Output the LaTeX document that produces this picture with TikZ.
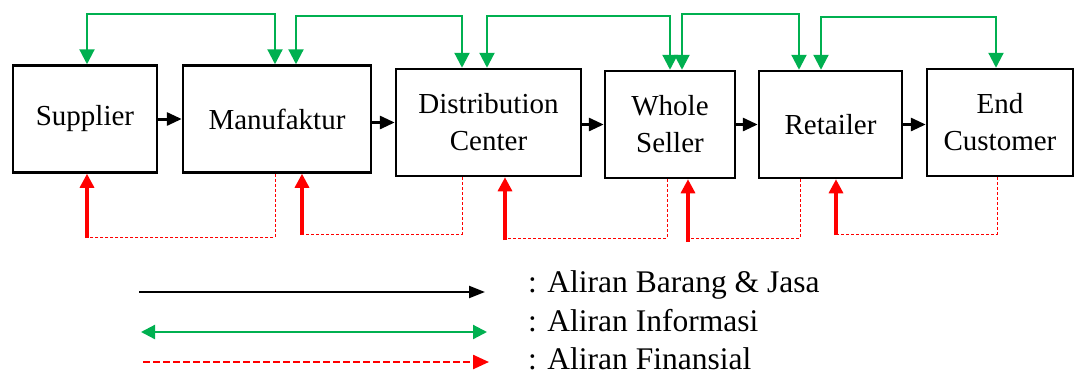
\documentclass[tikz,border=0pt]{standalone}
\usepackage{fontspec}
\setmainfont{Liberation Serif}
\usetikzlibrary{arrows.meta}
\definecolor{infogreen}{RGB}{0,176,80}
\definecolor{finred}{RGB}{255,0,0}
\begin{document}
\begin{tikzpicture}[x=1pt,y=-1pt,
  stage/.style={draw,line width=2.5pt,minimum width=#1,minimum height=107pt,
    align=center,inner sep=0pt,font=\fontsize{29}{37}\selectfont},
  goods/.style={line width=3pt,-{Triangle[length=15pt,width=13pt]}},
  info/.style={draw=infogreen,line width=2.2pt,line join=miter,
    {Triangle[length=15pt,width=15pt]}-{Triangle[length=15pt,width=15pt]}},
  finpay/.style={draw=finred,line width=3.2pt,-{Triangle[length=14pt,width=14pt]}},
  finback/.style={draw=finred,line width=1pt,dash pattern=on 3pt off 2pt},
  keytext/.style={anchor=base west,inner sep=0pt,font=\fontsize{31.5}{37}\selectfont}]
\useasboundingbox (0,0) rectangle (1077,376);

% supply chain stages
\node[stage=144pt] (sup) at (85,119) {Supplier};
\node[stage=188pt] (man) at (277,119) {Manufaktur};
\node[stage=185pt] (dc)  at (488.5,122.5) {Distribution\\Center};
\node[stage=130pt] (ws)  at (670,124.5) {Whole\\Seller};
\node[stage=143pt] (ret) at (830.5,124.5) {Retailer};
\node[stage=146pt] (ec)  at (1000,122.5) {End\\Customer};

% flow of goods
\draw[goods] (sup.east) -- (man.west);
\draw[goods] (dc.west -| man.east) -- (dc.west);
\draw[goods] (ws.west -| dc.east) -- (ws.west);
\draw[goods] (ret.west -| ws.east) -- (ret.west);
\draw[goods] (ret.east) -- (ret.east -| ec.west);

% flow of information
\draw[info] (sup.north -| 87,0) |- (275,14) -- (man.north -| 275,0);
\draw[info] (man.north -| 296,0) |- (462,16) -- (dc.north -| 462,0);
\draw[info] (dc.north -| 487,0) |- (670,16) -- (ws.north -| 670,0);
\draw[info] (ws.north -| 682,0) |- (799,14) -- (ret.north -| 799,0);
\draw[info] (ret.north -| 821,0) |- (996,17) -- (ec.north -| 996,0);

% flow of payments
\coordinate (p1) at (87,237);
\coordinate (p2) at (302,234);
\coordinate (p3) at (505,238);
\coordinate (p4) at (688,238);
\coordinate (p5) at (836,234);
\draw[finback] (man.south -| 275,0) |- (p1);
\draw[finback] (dc.south -| 462,0) |- (p2);
\draw[finback] (ws.south -| 667,0) |- (p3);
\draw[finback] (ret.south -| 800,0) |- (p4);
\draw[finback] (ec.south -| 997,0) |- (p5);
\draw[finpay] ([yshift=-1pt]p1) -- (sup.south -| p1);
\draw[finpay] ([yshift=-1pt]p2) -- (man.south -| p2);
\draw[finpay] ([yshift=-2pt]p3) -- (dc.south -| p3);
\draw[finpay] ([yshift=-4pt]p4) -- (ws.south -| p4);
\draw[finpay] ([yshift=-1pt]p5) -- (ret.south -| p5);

% legend
\coordinate (k1a) at (139,292);
\coordinate (k1b) at (485,292);
\coordinate (k2a) at (141,332);
\coordinate (k2b) at (487,332);
\coordinate (k3a) at (143,362);
\coordinate (k3b) at (489,362);
\draw[line width=2.2pt,-{Triangle[length=16pt,width=12pt]}] (k1a) -- (k1b);
\draw[draw=infogreen,line width=2.2pt,
  {Triangle[length=14pt,width=14pt]}-{Triangle[length=14pt,width=14pt]}] (k2a) -- (k2b);
\draw[draw=finred,line width=2.4pt,dash pattern=on 7pt off 3pt,
  -{Triangle[length=16pt,width=14pt,fill=finred]}] (k3a) -- (k3b);
\node[keytext] (t1) at (528,292) {: Aliran Barang \& Jasa};
\node[keytext] (t2) at (528,331) {: Aliran Informasi};
\node[keytext] (t3) at (528,369) {: Aliran Finansial};
\end{tikzpicture}
\end{document}
